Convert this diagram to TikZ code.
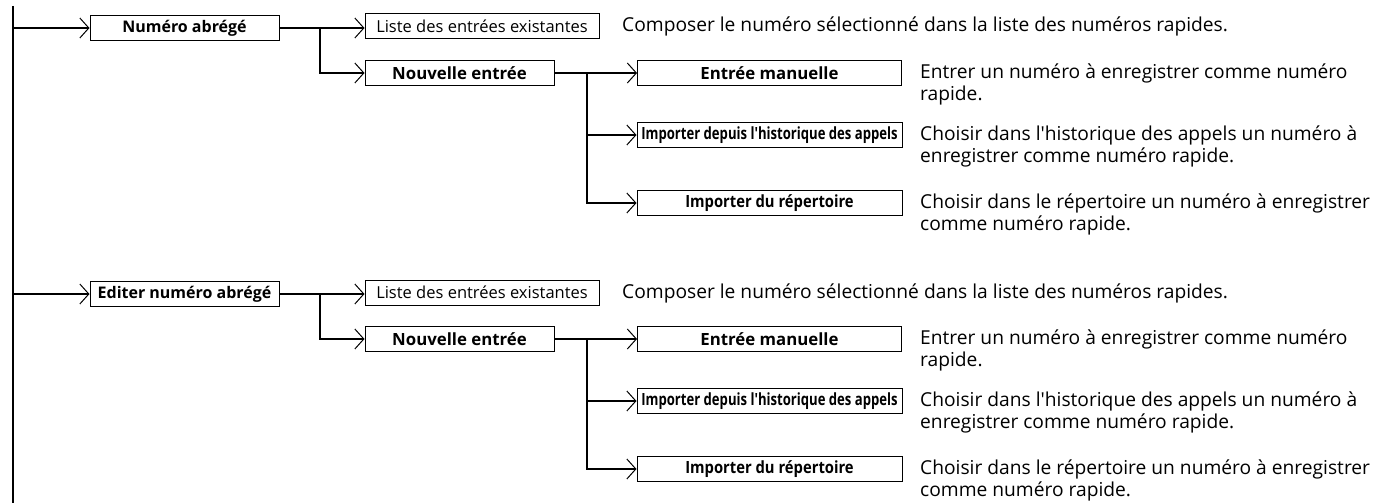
\documentclass[tikz,border=0pt]{standalone}
\usepackage{fontspec}
\setmainfont{Open Sans}[Ligatures=TeXOff]
\newfontfamily\narrowfont{Open Sans}[Ligatures=TeXOff, FakeStretch=0.78]
\newfontfamily\semifont{Open Sans}[Ligatures=TeXOff, FakeStretch=0.88]
\usetikzlibrary{arrows.meta}

\tikzset{
  menubox/.style={draw, line width=1pt, minimum height=25pt, inner sep=0pt,
    font=\bfseries\fontsize{16.8}{18}\selectfont},
  topbox/.style={menubox, font=\bfseries\fontsize{16}{18}\selectfont},
  plainbox/.style={menubox, font=\fontsize{16.5}{18}\selectfont},
  narrowbox/.style={menubox, font=\narrowfont\bfseries\fontsize{16.8}{18}\selectfont},
  semibox/.style={menubox, font=\semifont\bfseries\fontsize{16.8}{18}\selectfont},
  link/.style={line width=2pt, -{Straight Barb[length=9pt,width=20pt,line width=1pt]}},
  spine/.style={line width=2.5pt},
  desc/.style={anchor=base west, align=left, inner sep=0pt,
    font=\fontsize{19.2}{22}\selectfont},
}

\begin{document}
\begin{tikzpicture}[x=1pt, y=-1pt]
    \useasboundingbox (0,0) rectangle (1376,503);

    % Vertical line on the left
    \coordinate (spinetop) at (13,6);
    \coordinate (spinebot) at (13,503);
    \draw[spine] (spinetop) -- (spinebot);

    % The two menus, the second one 266pt lower
    \foreach \p/\title/\dy in {a/Numéro abrégé/0, b/Editer numéro abrégé/266}{
    \begin{scope}[yshift=-\dy pt]
        % Boxes
        \node[topbox, minimum width=189pt] (\p-top) at (184.5,28) {\title};
        \node[plainbox, minimum width=234pt] (\p-list) at (482,26.5) {Liste des entrées existantes};
        \node[menubox, minimum width=189pt] (\p-new) at (459.5,73) {Nouvelle entrée};
        \node[menubox, minimum width=264pt] (\p-man) at (769.5,73) {Entrée manuelle};
        \node[narrowbox, minimum width=265pt] (\p-hist) at (769.5,135) {Importer depuis l'historique des appels};
        \node[semibox, minimum width=265pt] (\p-book) at (769.5,203) {Importer du répertoire};

        % Forks
        \coordinate (\p-fork) at (320,28);
        \coordinate (\p-fork2) at (587,73);

        % Connectors
        \draw[link] (spinetop |- \p-top.west) -- (\p-top.west);
        \draw[link] (\p-top.east) -- (\p-top.east -| \p-list.west);
        \draw[link] (\p-fork) |- (\p-new.west);
        \draw[link] (\p-new.east) -- (\p-man.west);
        \draw[link] (\p-fork2) |- (\p-hist.west);
        \draw[link] (\p-fork2) |- (\p-book.west);

        % Descriptions (base = last line)
        \node[desc] (\p-listtxt) at (622,32) {Composer le numéro sélectionné dans la liste des numéros rapides.};
        \node[desc] (\p-mantxt) at (920,100) {Entrer un numéro à enregistrer comme numéro\\rapide.};
        \node[desc] (\p-histtxt) at (920,162) {Choisir dans l'historique des appels un numéro à\\enregistrer comme numéro rapide.};
        \node[desc] (\p-booktxt) at (920,230) {Choisir dans le répertoire un numéro à enregistrer\\comme numéro rapide.};
    \end{scope}
    }
\end{tikzpicture}
\end{document}
